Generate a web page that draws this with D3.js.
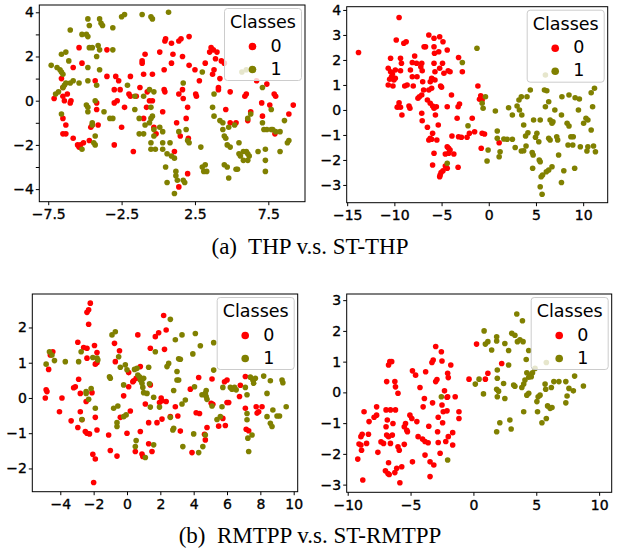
<!DOCTYPE html>
<html>
<head>
<meta charset="utf-8">
<script src="https://cdn.jsdelivr.net/npm/d3@7"></script>
<style>
  body { margin: 0; background: #fff; }
  svg { display: block; }
  .tick text { font-family: "DejaVu Sans", sans-serif; font-size: 14px; fill: #000; stroke: #000; stroke-width: 0.35px; }
  .tick line { stroke: #000; }
</style>
</head>
<body>
<div id="chart"></div>
<script>
// class labels
const classes = ["0", "1"];
const colors = ["#ff0000", "#808000"];

// (a) left: THP
const thpClass0 = [[-7.1,0.1],[-6.6,1.0],[-6.5,0.6],[-6.5,0.2],[-6.4,0.0],[-6.2,0.3],[-6.0,-0.1],[-5.95,0.0],[-6.5,-0.8],[-6.3,-1.1],[-6.5,-1.5],[-6.3,-1.5],[-5.8,-1.7],[-5.5,-2.0],[-5.3,-2.0],[-5.4,-2.1],[-5.1,-1.9],[-5.4,2.4],[-5.2,1.7],[-5.8,1.5],[-4.7,-1.8],[-4.6,-1.2],[-4.5,-1.1],[-4.3,0.9],[-4.2,-0.1],[-4.2,-0.4],[-4.1,-1.1],[-3.5,2.3],[-3.5,1.1],[-3.0,0.5],[-3.0,-0.1],[-2.9,1.1],[-2.8,0.0],[-2.7,0.9],[-2.6,0.5],[-2.5,-1.2],[-3.0,-2.0],[-2.3,-0.3],[-2.0,0.3],[-1.9,0.2],[-1.9,1.1],[-1.7,-2.3],[-1.5,0.2],[-1.25,0.6],[-1.1,1.8],[-1.1,1.7],[-1.0,1.2],[-0.9,2.1],[-1.0,-0.8],[-0.8,-0.3],[-0.75,0.4],[-0.6,0.0],[-0.4,0.0],[-0.3,-1.2],[-0.4,1.2],[-0.15,-1.5],[0.1,2.2],[0.3,-0.5],[0.4,0.5],[0.5,2.8],[0.45,2.7],[0.4,1.4],[0.45,0.4],[0.9,2.6],[0.9,1.7],[1.0,2.1],[1.4,2.7],[1.55,2.8],[2.1,2.9],[1.25,-1.0],[1.5,-1.6],[1.4,0.3],[1.65,2.0],[1.7,0.1],[1.65,0.5],[1.9,-0.8],[2.0,-0.3],[2.05,-1.7],[2.0,-3.3],[1.1,-2.3],[1.4,-3.9],[2.1,1.6],[2.5,1.4],[2.55,0.3],[2.6,0.2],[2.8,0.9],[3.2,1.7],[3.5,2.2],[3.6,2.4],[3.8,1.4],[3.75,2.3],[3.9,1.9],[4.0,2.2],[4.1,0.5],[4.1,0.6],[4.2,1.0],[4.3,1.8],[4.5,1.7],[4.6,-0.4],[4.9,0.4],[5.3,-1.0],[4.9,-1.0],[5.9,0.2],[6.0,0.3],[6.1,-0.9],[6.3,-0.5],[6.7,0.9],[7.1,-0.7],[7.4,0.75],[7.6,-0.2],[7.9,0.3],[8.0,0.2],[7.95,-1.5],[8.9,-0.6],[9.2,-0.2],[3.7,1.2],[7.05,-0.1]];
const thpClass1 = [[-7.3,1.6],[-6.9,1.5],[-6.7,1.4],[-6.6,1.3],[-6.5,1.2],[-6.6,2.1],[-6.3,2.2],[-6.0,3.2],[-6.1,1.8],[-5.2,3.0],[-4.9,3.0],[-4.8,2.9],[-4.8,3.7],[-4.7,3.4],[-4.0,3.7],[-3.9,3.5],[-3.8,3.4],[-3.1,3.3],[-2.5,3.8],[-2.3,3.9],[-1.1,3.9],[-0.5,3.8],[-0.4,3.7],[0.7,4.0],[-4.7,2.4],[-4.5,2.4],[-4.1,2.5],[-4.0,2.3],[-3.1,2.3],[-4.2,2.0],[-4.8,1.5],[-4.0,1.4],[-4.2,0.7],[-4.8,0.9],[-5.4,0.8],[-5.8,0.9],[-6.0,0.8],[-6.3,0.8],[-6.4,0.7],[-6.5,0.6],[-7.0,0.3],[-6.8,0.4],[-4.9,-0.2],[-4.8,-0.3],[-4.8,-0.5],[-4.3,0.0],[-3.7,-0.5],[-3.3,-0.8],[-3.1,-0.8],[-4.5,-1.0],[-4.5,-1.1],[-4.3,-1.6],[-4.4,-1.9],[-4.3,-2.0],[-5.2,-2.2],[-6.6,-0.6],[-2.1,0.7],[-1.6,0.2],[-1.6,-0.4],[-1.3,-0.8],[-1.3,-1.5],[-1.0,0.2],[-0.6,0.5],[-0.3,0.4],[-1.0,-1.5],[-0.9,-1.1],[-0.6,-1.0],[-0.5,-0.8],[-0.5,-0.3],[-0.4,-0.7],[-0.3,-1.6],[-0.5,-1.9],[-0.5,-2.2],[-0.2,-2.2],[-0.3,-1.3],[0.1,-1.2],[0.3,-1.4],[0.3,-1.9],[0.3,-2.2],[0.5,-3.0],[0.8,-1.9],[0.9,-2.5],[0.6,-2.4],[0.6,-3.7],[1.1,-2.6],[1.2,-3.2],[1.2,-3.4],[1.3,-3.6],[1.1,-4.2],[1.7,-3.6],[1.8,-3.7],[1.4,-1.4],[1.9,-1.3],[2.0,-1.8],[2.1,-1.9],[1.7,0.8],[2.9,-2.1],[3.0,-3.0],[3.1,-3.2],[3.2,-2.9],[3.3,-3.2],[3.0,1.3],[3.8,0.3],[3.7,-0.3],[3.8,-0.7],[4.2,-0.9],[4.4,-1.0],[4.4,-1.3],[4.5,-1.6],[4.6,-1.7],[4.7,-2.0],[4.9,-2.1],[4.5,-2.9],[4.7,-3.0],[4.8,-3.5],[4.8,-1.2],[5.2,-1.1],[5.5,-1.9],[5.5,-2.4],[5.8,-2.3],[6.0,-2.3],[6.1,-2.4],[6.2,-2.5],[6.1,-2.7],[5.8,-2.7],[5.6,-2.5],[5.4,-3.1],[5.3,-3.1],[6.1,-0.8],[6.3,-0.6],[6.8,-2.3],[7.1,-1.0],[7.2,-1.3],[7.4,-1.3],[7.3,-2.7],[7.3,-3.2],[7.3,-2.2],[7.7,-1.3],[7.8,-1.3],[8.0,-1.4],[8.3,-1.4],[8.3,-2.3],[8.6,-0.9],[8.8,-1.9],[8.9,-1.8],[7.7,-0.4],[7.1,0.6],[5.7,1.3],[6.0,1.4]];

// (a) right: ST-THP
const stThpClass0 = [[-13.8,2.3],[-9.5,3.7],[-9.8,2.8],[-9.0,2.67],[-8.75,2.73],[-10.4,2.07],[-9.35,2.07],[-10.65,1.67],[-10.4,1.53],[-10.2,1.44],[-9.9,1.6],[-10.3,1.33],[-10.05,1.2],[-10.5,1.23],[-9.9,1.27],[-10.65,1.0],[-10.15,0.96],[-9.35,1.57],[-9.25,1.87],[-9.5,0.29],[-9.6,0.13],[-9.35,0.11],[-9.7,0.11],[-9.2,-0.2],[-8.9,0.96],[-8.65,1.0],[-8.45,0.16],[-8.35,0.07],[-8.3,1.6],[-8.1,1.33],[-8.0,0.96],[-7.85,2.16],[-8.1,1.9],[-7.65,1.87],[-7.6,1.33],[-7.5,0.47],[-7.35,0.53],[-7.1,0.6],[-7.2,1.73],[-7.1,1.87],[-7.05,1.57],[-7.0,1.13],[-6.85,2.53],[-6.7,2.53],[-6.35,3.0],[-5.8,2.87],[-5.8,2.53],[-5.2,2.93],[-4.85,2.73],[-5.3,2.33],[-5.75,2.27],[-6.05,1.27],[-6.2,1.13],[-5.95,1.23],[-6.35,0.8],[-6.05,0.87],[-6.9,0.8],[-5.8,1.87],[-5.7,1.53],[-5.7,1.2],[-5.2,1.67],[-4.9,1.87],[-4.75,1.47],[-5.1,0.96],[-5.0,0.91],[-4.4,2.4],[-4.1,1.53],[-4.3,1.57],[-3.2,2.1],[-2.8,1.53],[-3.95,0.6],[-6.5,0.4],[-7.1,-0.13],[-7.05,-0.43],[-6.2,0.27],[-5.95,0.16],[-5.8,0.07],[-5.55,0.13],[-5.65,-0.2],[-5.35,-0.6],[-6.5,-0.69],[-6.2,-1.13],[-6.05,-1.17],[-5.95,-0.93],[-6.35,-1.2],[-5.8,-1.73],[-5.95,-2.2],[-5.5,-1.2],[-4.4,0.13],[-3.35,-0.33],[-3.25,0.13],[-3.1,0.24],[-3.9,-1.04],[-5.15,-2.6],[-5.05,-2.5],[-4.85,-2.43],[-5.2,-2.67],[-4.6,-1.76],[-4.4,-1.47],[-4.25,-1.53],[-4.1,-1.6],[-4.4,-2.33],[-4.6,-2.24],[-4.25,-1.73],[-3.7,-1.76],[-3.25,-2.29],[-3.2,-1.07],[-2.9,-1.09],[-2.3,-1.09],[-2.05,-0.93],[-1.75,-0.33],[-1.5,-0.87],[-1.15,0.96],[-0.98,0.43],[-0.85,0.57],[-0.7,-0.93],[-0.45,-0.96],[-0.8,-1.53],[1.1,-1.31],[-0.7,0.4]];
const stThpClass1 = [[-1.25,2.47],[-2.8,1.9],[-2.2,-0.63],[-4.4,-2.13],[-0.7,0.27],[-0.6,0.07],[-0.35,0.53],[0.7,-0.04],[0.9,-0.84],[0.9,-1.13],[-0.07,-1.6],[-0.18,-2.04],[1.2,-1.67],[1.1,-1.87],[1.6,-1.16],[1.95,-1.17],[2.5,-1.17],[2.1,0.09],[2.5,-0.2],[2.8,-1.5],[3.0,0.16],[3.2,0.4],[3.25,0.0],[3.45,0.53],[3.5,-0.2],[3.45,-1.64],[3.7,-1.63],[3.7,-0.6],[3.9,-1.04],[3.95,-1.44],[4.05,0.53],[4.15,-0.91],[4.4,0.8],[4.6,-1.7],[4.7,-1.8],[4.65,-2.33],[4.75,-0.4],[4.95,-1.09],[5.1,-0.93],[5.3,-1.27],[5.35,-2.0],[5.45,-2.07],[5.55,-2.67],[5.7,-2.6],[5.45,-3.07],[5.65,-3.37],[5.45,-0.4],[6.0,0.13],[5.9,0.8],[6.15,0.77],[6.35,0.33],[6.5,-0.4],[6.7,-0.53],[6.8,-0.47],[7.0,0.0],[6.35,-1.13],[6.5,-1.2],[6.7,-2.27],[6.35,-2.4],[6.1,-2.47],[7.2,-1.07],[7.3,-1.2],[7.4,-1.8],[7.7,-2.9],[7.95,-2.43],[7.75,0.53],[7.7,-0.2],[8.3,-0.53],[8.5,-0.64],[8.5,0.6],[8.4,-1.4],[8.9,-1.4],[9.1,-2.33],[8.7,-1.07],[8.95,-1.07],[9.15,0.49],[9.6,0.44],[9.5,0.0],[9.7,-1.47],[10.05,-0.53],[10.3,-0.33],[10.5,-1.47],[10.4,-1.64],[10.5,-0.4],[10.85,-0.8],[11.0,0.13],[10.85,0.69],[11.2,0.87],[11.1,-1.44],[11.3,-1.67],[6.0,1.4]];

// (b) left: RMTPP
const rmtppClass0 = [[-4.9,0.0],[-4.85,0.23],[-4.8,0.18],[-4.7,0.81],[-4.6,1.22],[-4.45,1.31],[-3.9,0.0],[-4.05,-0.39],[-3.35,-0.65],[-3.1,0.32],[-3.2,0.29],[-2.9,0.53],[-2.95,1.58],[-2.95,-0.84],[-2.8,0.13],[-2.8,-0.39],[-2.7,-0.62],[-2.6,1.43],[-2.5,-0.95],[-2.4,-1.0],[-2.4,1.13],[-2.4,1.41],[-2.45,-0.1],[-2.4,2.43],[-2.3,2.5],[-2.2,2.69],[-2.3,2.09],[-2.25,-1.02],[-2.1,0.15],[-2.05,-1.6],[-1.9,-1.73],[-1.95,1.49],[-1.8,1.29],[-1.9,0.96],[-1.9,-0.55],[-1.8,-0.91],[-2.0,-2.4],[-1.8,1.0],[-1.1,-1.05],[-1.0,-1.49],[-0.75,1.55],[-0.7,1.03],[-0.6,-1.65],[-0.45,1.34],[-0.4,-0.55],[-0.2,0.06],[0.0,-1.0],[0.1,0.32],[0.1,0.72],[0.2,-0.37],[0.35,0.46],[0.4,0.49],[0.5,-1.52],[0.55,0.56],[0.65,1.79],[0.8,0.89],[0.8,-0.95],[0.9,-1.59],[0.95,-1.66],[1.1,-0.17],[1.3,-0.7],[1.3,-1.3],[1.4,1.41],[1.4,0.37],[1.5,-1.52],[1.7,1.74],[1.8,-0.7],[1.9,1.85],[1.95,-0.13],[2.05,0.0],[2.1,-0.6],[2.2,2.34],[2.25,1.38],[2.35,1.93],[2.35,-0.1],[2.1,-0.08],[2.6,-0.53],[2.9,-0.25],[3.05,-0.51],[3.2,-0.94],[3.8,0.25],[3.9,-1.55],[4.15,-0.42],[4.3,0.58],[4.35,-0.44],[4.65,-1.03],[4.7,-1.19],[4.8,-0.84],[5.1,0.54],[5.05,-0.15],[5.15,-0.18],[5.5,-0.8],[5.75,-0.58],[5.85,0.46],[6.0,0.51],[6.0,-0.13],[6.1,-0.13],[5.9,-0.78],[6.75,0.04],[6.8,0.36],[7.1,0.61],[7.1,-0.29],[7.15,-0.89],[7.3,-0.93],[7.75,-0.25],[7.8,-0.43],[7.9,-0.39],[8.1,-0.25]];
const rmtppClass1 = [[-4.85,0.96],[-4.65,1.31],[-4.5,1.22],[-4.35,1.06],[-3.7,1.03],[-2.9,1.03],[-2.75,1.31],[-2.7,-0.61],[-2.45,0.18],[-2.45,0.13],[-2.3,-0.04],[-2.15,0.27],[-2.05,1.15],[-1.9,-0.29],[-1.8,1.13],[-1.75,1.08],[-1.05,0.6],[-1.0,0.56],[-0.9,1.79],[-0.7,1.88],[-0.8,-0.29],[-0.55,-0.23],[-0.6,-0.7],[-0.6,-0.81],[-0.5,1.17],[-0.4,0.87],[-0.2,0.37],[-0.1,0.94],[-0.05,-0.48],[-0.2,-0.53],[0.0,0.8],[0.45,0.81],[0.5,-1.38],[0.55,-1.21],[0.6,0.84],[0.65,0.65],[0.75,0.6],[0.8,0.51],[0.9,0.42],[0.95,0.3],[1.0,0.56],[1.1,-1.69],[1.0,0.15],[1.2,0.13],[1.3,0.87],[1.35,0.4],[1.4,-0.26],[1.6,0.02],[1.7,1.31],[1.6,-1.33],[1.95,-0.26],[2.4,0.89],[2.5,0.98],[2.6,2.23],[2.6,-0.55],[2.75,-0.91],[2.8,-0.86],[2.8,0.21],[2.9,1.65],[3.0,0.51],[3.0,0.75],[3.1,0.51],[3.1,1.11],[3.2,1.1],[3.3,1.79],[3.3,-0.17],[3.35,-1.38],[3.5,-0.06],[3.95,1.25],[4.0,-1.02],[4.05,0.32],[4.1,1.83],[4.3,-1.55],[4.4,1.48],[4.5,0.09],[4.55,-1.38],[4.7,0.13],[4.75,0.21],[4.75,0.04],[4.7,-1.05],[4.8,-0.04],[5.1,-0.23],[5.2,0.79],[5.2,1.57],[5.4,-0.61],[5.6,-0.53],[5.7,-0.25],[5.75,0.3],[6.2,0.3],[6.3,0.25],[6.45,0.3],[6.55,0.23],[7.1,0.3],[7.2,0.09],[7.2,-0.44],[7.2,-0.62],[7.25,-1.14],[7.3,-1.52],[7.4,0.59],[7.5,-1.05],[7.55,0.51],[7.6,0.42],[7.7,0.56],[8.2,0.62],[8.4,0.13],[8.4,-0.53],[8.6,0.49],[8.6,-0.72],[8.7,-0.81],[8.75,-0.34],[9.0,-0.51],[9.15,-0.51],[9.3,0.51],[9.35,0.43],[9.55,-0.25]];

// (b) right: ST-RMTPP
const stRmtppClass0 = [[-9.2,-2.17],[-8.8,-2.85],[-9.1,-1.68],[-8.95,-1.71],[-8.9,-1.88],[-8.95,-1.44],[-8.85,-1.36],[-8.7,-0.63],[-8.5,-1.66],[-8.35,-1.36],[-8.3,-0.95],[-7.9,-0.81],[-7.7,-0.74],[-7.7,-0.47],[-7.6,-1.95],[-7.35,-1.61],[-7.15,-1.66],[-7.0,-2.55],[-6.95,-0.57],[-6.95,-1.12],[-6.9,0.35],[-6.9,-1.39],[-6.8,-2.64],[-6.75,0.89],[-6.75,-2.29],[-6.7,-2.67],[-6.85,-0.9],[-6.75,-1.44],[-6.65,1.0],[-6.5,1.0],[-6.6,-0.57],[-6.45,-1.39],[-6.6,-1.66],[-6.4,-1.01],[-6.25,0.35],[-6.2,0.18],[-6.25,-2.61],[-6.2,-0.57],[-6.1,-2.47],[-6.0,-0.03],[-6.0,-1.77],[-5.9,-1.88],[-5.85,-2.94],[-5.7,-2.42],[-5.5,-1.69],[-5.5,-1.12],[-5.4,-1.01],[-5.3,-1.23],[-5.25,-1.28],[-5.05,-0.74],[-4.9,-0.85],[-4.85,-2.26],[-4.85,0.7],[-4.6,0.56],[-4.5,-0.95],[-4.4,-1.44],[-4.25,0.16],[-4.05,-1.52],[-4.0,-0.47],[-3.9,-0.2],[-3.85,-1.6],[-3.85,-2.04],[-3.8,0.67],[-3.6,-1.64],[-3.55,-1.1],[-3.45,-2.26],[-3.45,-2.74],[-3.3,0.97],[-3.25,-0.34],[-3.2,1.05],[-3.15,-2.36],[-3.0,1.49],[-3.0,0.35],[-2.9,0.42],[-2.85,-1.28],[-2.8,-0.81],[-2.8,-1.63],[-2.65,-1.98],[-2.55,1.32],[-2.5,1.02],[-2.5,-0.41],[-2.45,-0.99],[-2.4,-0.63],[-2.3,0.05],[-2.2,-1.6],[-2.1,-0.6],[-2.1,-0.16],[-2.05,0.62],[-2.0,0.48],[-2.0,-1.44],[-1.8,0.89],[-1.65,-1.71],[-1.65,-1.31],[-1.45,-0.14],[-1.15,-0.63],[-1.15,-0.85],[-2.05,-0.14],[-0.35,0.43],[0.25,1.57],[0.95,0.43],[1.15,0.62],[2.25,0.94]];
const stRmtppClass1 = [[-2.55,-0.14],[-2.05,-2.2],[0.15,0.27],[0.45,0.43],[0.8,-0.05],[0.85,2.0],[0.95,1.57],[1.15,1.65],[1.45,1.38],[1.85,1.67],[1.85,0.1],[1.9,0.73],[1.9,0.46],[1.9,-0.14],[2.0,0.04],[1.85,-1.28],[1.85,1.81],[2.1,-0.99],[2.4,0.29],[2.5,1.59],[2.5,-0.2],[2.8,1.36],[2.8,0.89],[2.9,-0.9],[3.0,-1.19],[3.05,1.92],[3.3,1.86],[3.2,0.24],[3.3,0.2],[3.45,2.55],[3.5,1.65],[3.7,1.71],[3.85,0.16],[3.9,2.33],[3.95,1.65],[4.0,-0.63],[4.0,0.27],[4.1,0.4],[4.2,1.07],[4.25,-0.09],[4.4,1.36],[4.4,-0.03],[4.25,0.64],[4.4,0.49],[4.5,0.56],[4.6,0.51],[4.7,0.64],[4.9,0.78],[5.05,-0.3],[5.1,-0.63],[5.15,-0.14],[5.3,-0.09],[5.45,-0.99],[5.7,0.27],[5.75,0.1],[5.8,-0.85],[5.9,-0.44],[6.1,-0.52],[6.2,0.16],[6.25,-0.49],[6.4,0.35],[6.8,0.35],[7.35,0.35],[7.35,-0.34],[7.45,-0.12],[7.6,0.13],[7.95,0.05],[8.05,0.53],[8.75,0.21],[5.8,0.97]];

// tick values
const thpXTicks = [-7.5, -2.5, 2.5, 7.5];
const thpYTicks = [-4, -3, -2, -1, 0, 1, 2, 3, 4];
const thpYLabels = [-4, -2, 0, 2, 4];
const stThpXTicks = [-15, -10, -5, 0, 5, 10];
const stThpYTicks = [-3, -2, -1, 0, 1, 2, 3, 4];
const rmtppXTicks = [-4, -2, 0, 2, 4, 6, 8, 10];
const rmtppYTicks = [-2, -1, 0, 1, 2];
const stRmtppXTicks = [-10, -5, 0, 5, 10];
const stRmtppYTicks = [-3, -2, -1, 0, 1, 2, 3];

const captions = ["(a)  THP v.s. ST-THP", "(b)  RMTPP v.s. ST-RMTPP"];

const W = 630, H = 552;
const svg = d3.select("#chart").append("svg")
  .attr("width", W)
  .attr("height", H)
  .style("background", "#fff");

const panels = [
  { left: 39.3, right: 305, top: 5, bottom: 201.7, xDom: [-8.11, 10.0], yDom: [-4.57, 4.33],
    xTicks: thpXTicks, yTicks: thpYTicks, yLabels: thpYLabels, series: [thpClass0, thpClass1] },
  { left: 346.7, right: 607.7, top: 6.7, bottom: 202.7, xDom: [-15.05, 12.6], yDom: [-3.71, 4.13],
    xTicks: stThpXTicks, yTicks: stThpYTicks, yLabels: stThpYTicks, series: [stThpClass0, stThpClass1] },
  { left: 32.3, right: 297.7, top: 294, bottom: 491.7, xDom: [-5.68, 10.24], yDom: [-2.66, 2.95],
    xTicks: rmtppXTicks, yTicks: rmtppYTicks, yLabels: rmtppYTicks, series: [rmtppClass0, rmtppClass1] },
  { left: 346.7, right: 611.7, top: 294, bottom: 492.3, xDom: [-10.08, 11.0], yDom: [-3.25, 3.2],
    xTicks: stRmtppXTicks, yTicks: stRmtppYTicks, yLabels: stRmtppYTicks, series: [stRmtppClass0, stRmtppClass1] }
];

const fmt = v => (v < 0 ? "\u2212" : "") + Math.abs(v);

panels.forEach(p => {
  const x = d3.scaleLinear().domain(p.xDom).range([p.left, p.right]);
  const y = d3.scaleLinear().domain(p.yDom).range([p.bottom, p.top]);
  const g = svg.append("g");

  // points: class 0 first, class 1 on top
  p.series.forEach((pts, i) => {
    g.append("g").selectAll("circle")
      .data(pts)
      .enter().append("circle")
      .attr("cx", d => x(d[0]))
      .attr("cy", d => y(d[1]))
      .attr("r", 2.8)
      .attr("fill", colors[i]);
  });

  g.append("g")
    .attr("transform", `translate(0,${p.bottom})`)
    .call(d3.axisBottom(x).tickValues(p.xTicks).tickFormat(fmt).tickSize(3.5).tickPadding(4))
    .call(a => a.select(".domain").remove());

  g.append("g")
    .attr("transform", `translate(${p.left},0)`)
    .call(d3.axisLeft(y).tickValues(p.yTicks)
      .tickFormat(v => p.yLabels.includes(v) ? fmt(v) : "")
      .tickSize(3.5).tickPadding(2))
    .call(a => a.select(".domain").remove());

  g.append("rect")
    .attr("x", p.left).attr("y", p.top)
    .attr("width", p.right - p.left).attr("height", p.bottom - p.top)
    .attr("fill", "none").attr("stroke", "#000").attr("stroke-width", 1);

  // legend
  const lw = 77, lh = 72;
  const lx = p.right - 3.5 - lw, ly = p.top + 3.5;
  const lg = g.append("g").attr("transform", `translate(${lx},${ly})`);
  lg.append("rect")
    .attr("width", lw).attr("height", lh).attr("rx", 3)
    .attr("fill", "#fff").attr("fill-opacity", 0.8)
    .attr("stroke", "#cccccc").attr("stroke-width", 1);
  lg.append("text")
    .attr("x", lw / 2).attr("y", 19.5)
    .attr("text-anchor", "middle")
    .style("font-family", "DejaVu Sans, sans-serif").style("font-size", "17.5px")
    .text("Classes");
  classes.forEach((c, i) => {
    lg.append("circle")
      .attr("cx", 28).attr("cy", 38 + i * 23)
      .attr("r", 3.8).attr("fill", colors[i]);
    lg.append("text")
      .attr("x", 46).attr("y", 37 + i * 23)
      .attr("dy", "0.36em")
      .style("font-family", "DejaVu Sans, sans-serif").style("font-size", "17.5px")
      .text(c);
  });
});

svg.selectAll("text.caption")
  .data(captions)
  .enter().append("text")
  .attr("class", "caption")
  .attr("x", 310)
  .attr("y", (d, i) => i === 0 ? 254 : 543)
  .attr("text-anchor", "middle")
  .style("font-family", "Liberation Serif, Times New Roman, serif")
  .style("font-size", "23px")
  .style("white-space", "pre")
  .text(d => d);
</script>
</body>
</html>
